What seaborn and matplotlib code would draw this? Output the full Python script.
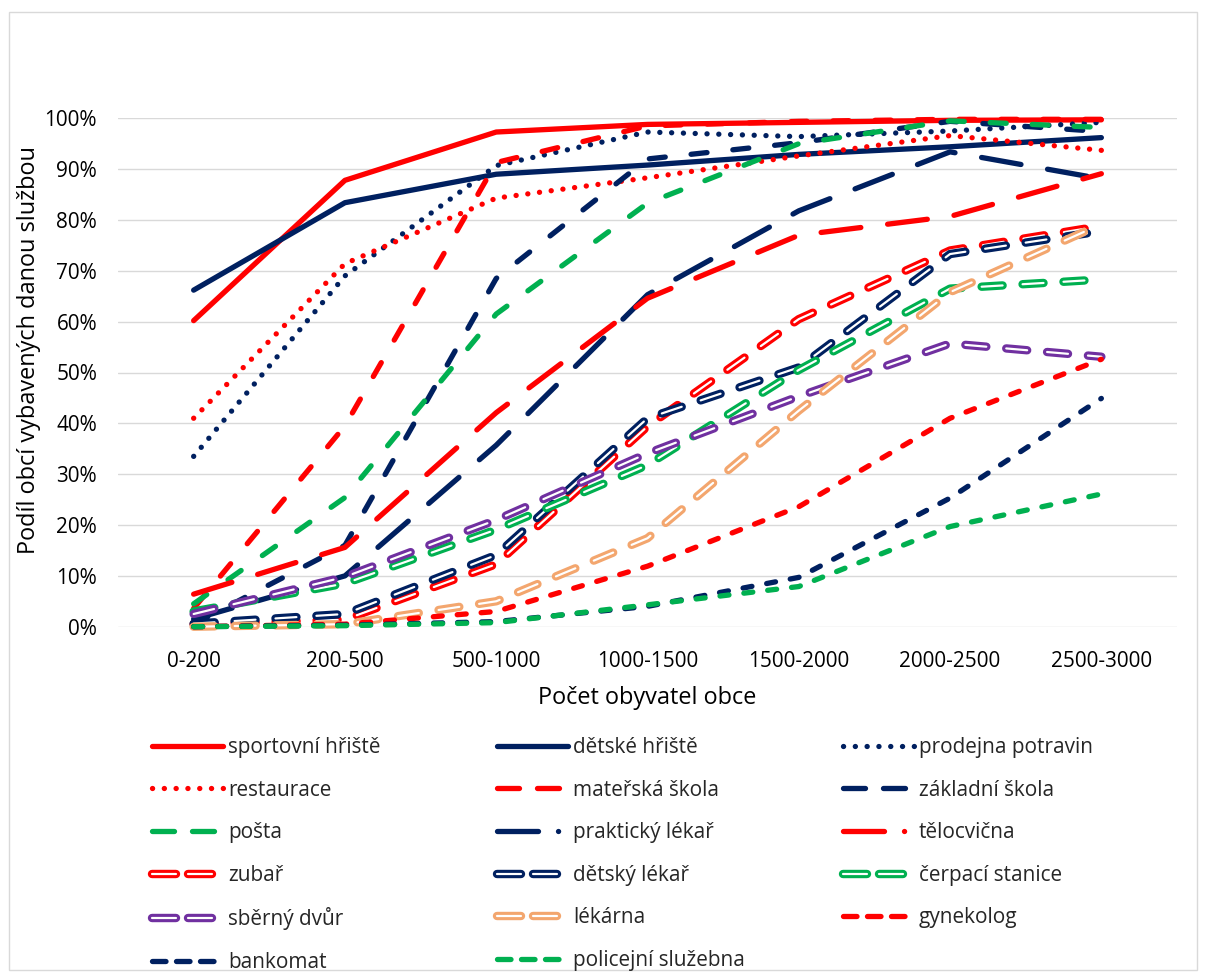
import matplotlib
matplotlib.use('Agg')
import matplotlib.pyplot as plt
import matplotlib.patheffects as pe
from matplotlib.lines import Line2D
from matplotlib.patches import Rectangle
from matplotlib.ticker import PercentFormatter, MultipleLocator
import seaborn as sns

# --- DATA (podíl obcí v %) --- #

skupiny = ['0-200', '200-500', '500-1000', '1000-1500', '1500-2000', '2000-2500', '2500-3000']

sportovni_hriste = [60.2, 87.8, 97.3, 98.8, 99.2, 99.6, 99.7]
detske_hriste = [66.2, 83.4, 89.0, 90.8, 92.9, 94.4, 96.2]
prodejna_potravin = [33.5, 69.0, 90.7, 97.3, 96.4, 97.5, 99.2]
restaurace = [41.0, 71.4, 84.3, 88.3, 92.6, 96.6, 93.7]
materska_skola = [3.6, 39.5, 91.3, 98.5, 99.4, 99.8, 99.8]
zakladni_skola = [0.5, 16.0, 68.5, 92.0, 95.2, 99.4, 97.4]
posta = [4.5, 25.4, 61.5, 83.3, 95.0, 99.5, 98.2]
prakticky_lekar = [1.5, 10.0, 35.7, 65.3, 81.8, 93.4, 88.1]
telocvicna = [6.4, 15.6, 42.1, 64.6, 77.0, 80.7, 89.1]
zubar = [0.5, 1.4, 12.3, 39.4, 60.5, 74.0, 78.8]
detsky_lekar = [0.6, 2.5, 14.1, 41.0, 51.0, 73.3, 77.8]
cerpaci_stanice = [3.0, 8.5, 19.1, 31.8, 50.5, 66.5, 68.3]
sberny_dvur = [2.5, 9.8, 21.0, 34.1, 45.3, 55.7, 53.1]
lekarna = [0.0, 0.5, 5.0, 17.4, 42.5, 65.8, 79.2]
gynekolog = [0.0, 0.5, 3.0, 11.9, 23.6, 41.0, 52.6]
bankomat = [0.0, 0.3, 1.0, 4.0, 9.7, 25.3, 44.9]
policejni_sluzebna = [0.0, 0.2, 0.8, 4.3, 7.9, 19.7, 26.1]

RED, NAVY, GREEN, PURPLE, ORANGE = '#FF0000', '#002060', '#00B050', '#7030A0', '#F3A66E'

series = [
    ('sportovní hřiště', sportovni_hriste, RED, 'solid'),
    ('dětské hřiště', detske_hriste, NAVY, 'solid'),
    ('prodejna potravin', prodejna_potravin, NAVY, 'dot'),
    ('restaurace', restaurace, RED, 'dot'),
    ('mateřská škola', materska_skola, RED, 'dash'),
    ('základní škola', zakladni_skola, NAVY, 'dash'),
    ('pošta', posta, GREEN, 'dash'),
    ('praktický lékař', prakticky_lekar, NAVY, 'longdash'),
    ('tělocvična', telocvicna, RED, 'longdash'),
    ('zubař', zubar, RED, 'double'),
    ('dětský lékař', detsky_lekar, NAVY, 'double'),
    ('čerpací stanice', cerpaci_stanice, GREEN, 'double'),
    ('sběrný dvůr', sberny_dvur, PURPLE, 'double'),
    ('lékárna', lekarna, ORANGE, 'double'),
    ('gynekolog', gynekolog, RED, 'sysdash'),
    ('bankomat', bankomat, NAVY, 'sysdash'),
    ('policejní služebna', policejni_sluzebna, GREEN, 'sysdash'),
]

# --- STYLE --- #

sns.set_theme(style='white')
plt.rcParams['font.family'] = ['Open Sans', 'DejaVu Sans']
plt.rcParams['lines.scale_dashes'] = False

W, H = 1205, 976
PT = 0.72  # px -> pt at dpi 100
FS = 14.95      # ticks, legend
FS_TITLE = 16.9  # axis titles

LW = 5.3 * PT
OUTER = 8.4 * PT
INNER = 2.2 * PT

# dash patterns in px: (plot, legend)
dash_px = {
    'solid': (None, None),
    'dot': ((0.1, 11.7), (0.1, 11.7)),
    'dash': ((16, 26), (22, 18)),
    'longdash': ((40, 27), (41, 20, 0.1, 20)),
    'double': ((21, 20), (24, 12)),
    'sysdash': ((9, 15), (13.5, 10.5)),
}


def style_line(line, color, kind, legend=False):
    pattern = dash_px[kind][1 if legend else 0]
    line.set_solid_capstyle('round')
    line.set_dash_capstyle('round')
    line.set_solid_joinstyle('round')
    line.set_dash_joinstyle('round')
    if kind == 'double':
        # outlined dash: thick coloured stroke with a thin white core
        line.set_color('white')
        line.set_linewidth(INNER)
        line.set_path_effects([pe.Stroke(linewidth=OUTER, foreground=color), pe.Normal()])
    else:
        line.set_color(color)
        line.set_linewidth(LW)
    if pattern is not None:
        line.set_dashes([p * PT for p in pattern])


fig = plt.figure(figsize=(W / 100, H / 100), dpi=100)
ax = fig.add_axes([118 / W, 1 - 626.7 / H, (1177 - 118) / W, (626.7 - 118.3) / H])

for name, vals, color, kind in series:
    sns.lineplot(x=skupiny, y=vals, ax=ax, sort=False, legend=False)
    line = ax.lines[-1]
    style_line(line, color, kind)
    line.set_clip_on(False)

ax.set_xlim(-0.5, 6.5)
ax.set_ylim(0, 100)
ax.yaxis.set_major_locator(MultipleLocator(10))
ax.yaxis.set_major_formatter(PercentFormatter(100, decimals=0))
ax.yaxis.grid(True, color='#d9d9d9', lw=1.0)
ax.xaxis.grid(False)
ax.set_axisbelow(True)
for s in ax.spines.values():
    s.set_visible(False)
ax.tick_params(axis='y', length=0, pad=15.1, labelsize=FS, labelcolor='black')
ax.tick_params(axis='x', length=0, pad=17.3, labelsize=FS, labelcolor='black')

ax.set_ylabel('Podíl obcí vybavených danou službou', fontsize=FS_TITLE, color='black')
ax.yaxis.set_label_coords(-0.0727, 0.544)
ax.set_xlabel('Počet obyvatel obce', fontsize=FS_TITLE, color='black')
ax.xaxis.set_label_coords(0.5, -0.1166)

# --- LEGEND: three columns, filled row by row --- #
handles = []
for name, vals, color, kind in series:
    h = Line2D([], [])
    style_line(h, color, kind, legend=True)
    handles.append(h)
labels = [s[0] for s in series]

fs_px = FS / PT
col_x = [152, 497, 843]
for c in range(3):
    idx = list(range(c, len(series), 3))
    fig.legend([handles[i] for i in idx], [labels[i] for i in idx],
               loc='upper left', bbox_to_anchor=(col_x[c] / W, 1 - 737 / H),
               frameon=False, borderpad=0, borderaxespad=0,
               handlelength=71 / fs_px, handletextpad=5 / fs_px,
               labelspacing=1.04, fontsize=FS)

fig.patches.append(Rectangle((9 / W, 1 - 970 / H), (1197 - 9) / W, (970 - 12) / H,
                             transform=fig.transFigure, fill=False,
                             edgecolor='#d9d9d9', lw=1.0))

fig.savefig('out.png', dpi=100)
